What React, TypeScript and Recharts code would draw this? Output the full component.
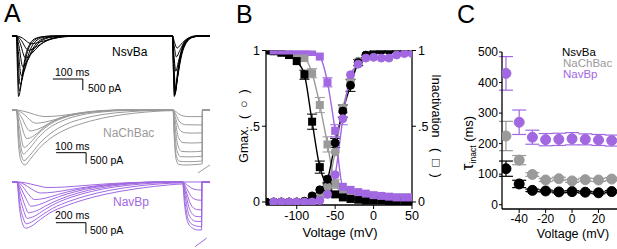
import React from 'react';
import { LineChart, Line, XAxis, YAxis, ComposedChart, ErrorBar, ReferenceLine } from 'recharts';

const BLACK = '#000000';
const GRAY = '#9a9a9a';
const PURPLE = '#a168e2';
const FONT = '"Liberation Sans", Arial, sans-serif';

// ---- A: current traces, [time (ms), current (pA)]
const nsvbaTraces: number[][][] = [
  [[0, 0], [15, 0], [18, -1500], [22, -2750], [27, -2500], [35, -1700], [45, -900], [60, -350], [80, -100], [110, -20], [150, 0], [535, 0], [538, -1600], [541, -2750], [546, -2300], [555, -1300], [568, -500], [585, -120], [610, 0], [660, 0]],
  [[0, 0], [15, 0], [19, -1300], [24, -2500], [30, -2200], [40, -1400], [52, -700], [70, -250], [95, -60], [130, 0], [535, 0], [538, -1500], [542, -2700], [548, -2200], [558, -1200], [572, -450], [590, -100], [615, 0], [660, 0]],
  [[0, 0], [15, 0], [20, -1000], [27, -2200], [35, -1900], [45, -1300], [60, -650], [80, -220], [110, -50], [150, 0], [535, 0], [539, -1500], [543, -2650], [550, -2000], [560, -1100], [575, -400], [595, -80], [620, 0], [660, 0]],
  [[0, 0], [15, 0], [21, -700], [31, -1800], [40, -1600], [55, -1000], [75, -450], [100, -150], [140, -20], [180, 0], [535, 0], [539, -1400], [544, -2600], [551, -1950], [562, -1000], [578, -350], [600, -60], [625, 0], [660, 0]],
  [[0, 0], [15, 0], [23, -450], [36, -1400], [50, -1150], [70, -650], [95, -250], [130, -60], [180, 0], [535, 0], [540, -1300], [545, -2450], [553, -1800], [565, -900], [582, -300], [605, -50], [630, 0], [660, 0]],
  [[0, 0], [15, 0], [25, -250], [45, -1000], [65, -800], [90, -450], [120, -180], [160, -40], [210, 0], [535, 0], [540, -900], [546, -1600], [555, -1150], [568, -550], [585, -180], [610, -30], [635, 0], [660, 0]],
  [[0, 0], [15, 0], [28, -150], [55, -650], [80, -500], [110, -250], [150, -80], [200, 0], [535, 0], [541, -500], [548, -950], [558, -700], [572, -330], [590, -100], [615, -15], [640, 0], [660, 0]],
  [[0, 0], [15, 0], [30, -60], [65, -350], [100, -250], [140, -100], [190, -20], [230, 0], [535, 0], [542, -300], [550, -550], [562, -400], [578, -180], [600, -50], [630, 0], [660, 0]],
];

const nachbacTraces: number[][][] = [
  [[0, 0], [15, 0], [22, -1600], [30, -2300], [43, -2500], [60, -2250], [90, -1750], [127, -1300], [180, -880], [237, -600], [320, -320], [405, -150], [480, -60], [537, -30], [541, -1300], [547, -2250], [556, -2480], [580, -2500], [610, -2480], [634, -2450], [635, 0], [660, 0]],
  [[0, 0], [15, 0], [22, -1300], [31, -2050], [40, -2300], [60, -2050], [90, -1550], [130, -1050], [180, -650], [240, -380], [320, -170], [400, -70], [470, -20], [537, -10], [541, -1100], [548, -2100], [558, -2330], [585, -2350], [634, -2320], [635, 0], [660, 0]],
  [[0, 0], [15, 0], [23, -1000], [30, -1700], [38, -2000], [55, -1800], [85, -1300], [120, -850], [170, -480], [230, -230], [300, -90], [380, -20], [537, 0], [542, -900], [550, -1850], [562, -2120], [590, -2130], [634, -2100], [635, 0], [660, 0]],
  [[0, 0], [15, 0], [24, -700], [40, -1700], [60, -1500], [90, -1050], [130, -620], [180, -320], [240, -130], [320, -30], [400, 0], [537, 0], [543, -700], [552, -1550], [565, -1880], [595, -1900], [634, -1870], [635, 0], [660, 0]],
  [[0, 0], [15, 0], [26, -450], [50, -1300], [75, -1150], [110, -750], [150, -420], [200, -200], [270, -60], [350, 0], [537, 0], [544, -500], [555, -1250], [570, -1480], [600, -1500], [634, -1480], [635, 0], [660, 0]],
  [[0, 0], [15, 0], [30, -300], [60, -950], [90, -850], [130, -560], [180, -290], [240, -120], [320, -20], [400, 0], [537, 0], [545, -350], [558, -880], [575, -1030], [605, -1050], [634, -1040], [635, 0], [660, 0]],
  [[0, 0], [15, 0], [35, -150], [80, -600], [120, -520], [170, -330], [230, -160], [300, -50], [380, 0], [537, 0], [546, -200], [560, -560], [580, -670], [634, -680], [635, 0], [660, 0]],
  [[0, 0], [15, 0], [40, -60], [110, -300], [160, -260], [220, -150], [300, -50], [380, 0], [537, 0], [547, -80], [565, -250], [590, -300], [634, -300], [635, 0], [660, 0]],
];
const nachbacTail = [[620, -2860], [660, -2500]];

const navbpTraces: number[][][] = [
  [[0, 0], [33, 0], [50, -1200], [70, -1900], [90, -2100], [130, -2000], [190, -1700], [253, -1400], [360, -1080], [473, -820], [620, -560], [807, -330], [950, -200], [1050, -130], [1138, -90], [1150, -1000], [1170, -1800], [1200, -2080], [1240, -2180], [1264, -2180], [1265, 0], [1320, 0]],
  [[0, 0], [33, 0], [52, -1000], [75, -1650], [95, -1900], [140, -1780], [200, -1500], [270, -1200], [380, -880], [500, -620], [650, -380], [820, -200], [980, -90], [1138, -40], [1152, -850], [1175, -1700], [1210, -1960], [1264, -2030], [1265, 0], [1320, 0]],
  [[0, 0], [33, 0], [55, -750], [80, -1350], [100, -1650], [150, -1550], [215, -1270], [290, -980], [400, -680], [530, -430], [680, -230], [850, -100], [1000, -30], [1138, -10], [1155, -650], [1180, -1500], [1220, -1780], [1264, -1800], [1265, 0], [1320, 0]],
  [[0, 0], [33, 0], [58, -500], [85, -1050], [110, -1400], [165, -1300], [235, -1050], [320, -780], [440, -500], [580, -280], [740, -120], [900, -30], [1050, 0], [1138, 0], [1157, -500], [1185, -1250], [1225, -1560], [1264, -1580], [1265, 0], [1320, 0]],
  [[0, 0], [33, 0], [62, -320], [95, -780], [125, -1100], [185, -1020], [260, -800], [360, -560], [490, -330], [640, -160], [800, -50], [950, 0], [1138, 0], [1160, -400], [1190, -1000], [1230, -1250], [1264, -1270], [1265, 0], [1320, 0]],
  [[0, 0], [33, 0], [70, -200], [110, -560], [150, -800], [220, -740], [310, -560], [420, -370], [560, -200], [720, -80], [880, -20], [1000, 0], [1138, 0], [1165, -300], [1200, -700], [1240, -820], [1264, -830], [1265, 0], [1320, 0]],
  [[0, 0], [33, 0], [80, -100], [130, -320], [190, -500], [280, -460], [390, -340], [520, -210], [680, -100], [850, -30], [1000, 0], [1138, 0], [1170, -150], [1210, -320], [1264, -370], [1265, 0], [1320, 0]],
  [[0, 0], [33, 0], [90, -40], [160, -150], [240, -250], [350, -230], [480, -160], [640, -80], [820, -20], [1000, 0], [1320, 0]],
];
const navbpTail = [[1220, -2940], [1298, -2550]];

// ---- B: normalized conductance / inactivation vs voltage
const voltagesB = [-140, -130, -120, -110, -100, -90, -80, -70, -60, -50, -40, -30, -20, -10, 0, 10, 20, 30, 40, 50];
const nsvbaAct = [0, 0, 0, 0, 0, 0.005, 0.04, 0.08, 0.15, 0.39, 0.6, 0.77, 0.92, 0.97, 0.99, 1, 1, 1, 0.995, 0.99];
const nachbacAct = [0, 0, 0, 0, 0, 0, 0.01, 0.03, 0.1, 0.33, 0.62, 0.8, 0.93, 0.97, 0.99, 1, 1, 0.995, 0.99, 0.99];
const navbpAct = [null, 0, 0, 0, 0, 0, 0, 0.01, 0.05, 0.18, 0.55, 0.84, 0.91, 0.95, 0.955, 0.95, 0.95, 0.97, 0.98, 0.98];
const nsvbaInact = [1, 0.995, 0.985, 0.97, 0.93, 0.84, 0.53, 0.23, 0.1, 0.05, 0.03, 0.02, 0.015, 0.01, 0.01, 0.01, 0.005, 0.005, 0.005, 0.005];
const nachbacInact = [1, 1, 0.99, 0.985, 0.97, 0.95, 0.85, 0.64, 0.38, 0.12, 0.06, 0.05, 0.04, 0.035, 0.03, 0.03, 0.03, 0.03, 0.03, 0.03];
const navbpInact = [null, 1, 1, 1, 1, 1, 0.99, 0.96, 0.79, 0.47, 0.1, 0.08, 0.065, 0.055, 0.045, 0.04, 0.035, 0.03, 0.03, 0.03];
const nsvbaActErr = [null, null, null, null, null, null, null, null, 0.02, 0.03, 0.04, 0.04, 0.02, null, null, null, null, null, null, null];
const nsvbaInactErr = [null, null, null, null, null, 0.03, 0.05, 0.04, 0.02, null, null, null, null, null, null, null, null, null, null, null];
const nachbacInactErr = [null, null, null, null, null, null, 0.03, 0.05, 0.05, 0.03, null, null, null, null, null, null, null, null, null, null];
const navbpInactErr = [null, null, null, null, null, null, null, null, 0.03, 0.04, null, null, null, null, null, null, null, null, null, null];
const navbpActErr = [null, null, null, null, null, null, null, null, null, null, 0.04, null, null, null, null, null, null, null, null, null];

// ---- C: inactivation time constant (ms)
const voltagesC = [-50, -40, -30, -20, -10, 0, 10, 20, 30];
const nsvbaTau = [118, 68, 47, 45, 42, 43, 41, 39, 43];
const nachbacTau = [225, 146, 99, 81, 85, 78, 82, 81, 84];
const navbpTau = [430, 270, 221, 213, 214, 216, 214, 212, 210];
const nsvbaTauErr = [25, 12, 4, 3, 3, 3, 3, 3, 3];
const nachbacTauErr = [48, 15, 6, 5, 5, 5, 5, 5, 5];
const navbpTauErr = [55, 40, 23, 20, 20, 20, 18, 18, 18];

const dataB = voltagesB.map((v, i) => ({
  v,
  nsAct: nsvbaAct[i], ncAct: nachbacAct[i], npAct: navbpAct[i],
  nsIn: nsvbaInact[i], ncIn: nachbacInact[i], npIn: navbpInact[i],
  nsActErr: nsvbaActErr[i], nsInErr: nsvbaInactErr[i], ncInErr: nachbacInactErr[i],
  npInErr: navbpInactErr[i], npActErr: navbpActErr[i],
}));

const dataC = voltagesC.map((v, i) => ({
  v,
  ns: nsvbaTau[i], nc: nachbacTau[i], np: navbpTau[i],
  nsErr: nsvbaTauErr[i], ncErr: nachbacTauErr[i], npErr: navbpTauErr[i],
}));

const toPts = (arr: number[][]) => arr.map(([t, i]) => ({ t, i }));

const circleDot = (color: string, r: number) => (p: any) =>
  Number.isFinite(p.cy) && p.value != null
    ? <circle key={`c${p.index}`} cx={p.cx} cy={p.cy} r={r} fill={color} stroke={color} />
    : <g key={`c${p.index}`} />;

const squareDot = (color: string) => (p: any) =>
  Number.isFinite(p.cy) && p.value != null
    ? <rect key={`s${p.index}`} x={p.cx - 4} y={p.cy - 4} width={8} height={8} fill={color} />
    : <g key={`s${p.index}`} />;

const tickStyle = { fill: '#000', fontSize: 12.5, fontFamily: FONT };
const tickStyleC = { fill: '#000', fontSize: 12, fontFamily: FONT };
const axisStyle = { stroke: '#000', strokeWidth: 1.3 };

function TraceChart({ traces, tail, color, xMax, bar, top }: any) {
  return (
    <div style={{ position: 'absolute', left: 12, top }}>
      <LineChart width={198} height={72} margin={{ top: 0, right: 0, bottom: 0, left: 0 }}>
        <XAxis hide type="number" dataKey="t" domain={[0, xMax]} allowDataOverflow />
        <YAxis hide type="number" domain={[-3000, 272.7]} allowDataOverflow />
        {traces.map((tr: number[][], k: number) => (
          <Line key={k} data={toPts(tr)} dataKey="i" type="monotone" stroke={color} strokeWidth={1}
            dot={false} activeDot={false} isAnimationActive={false} />
        ))}
        {tail && (
          <Line data={toPts(tail)} dataKey="i" type="linear" stroke={color} strokeWidth={1}
            dot={false} activeDot={false} isAnimationActive={false} />
        )}
        <ReferenceLine segment={[{ x: bar.t - bar.ms, y: bar.i }, { x: bar.t, y: bar.i }]} stroke="#000" strokeWidth={1} ifOverflow="visible" />
        <ReferenceLine segment={[{ x: bar.t, y: bar.i }, { x: bar.t, y: bar.i - bar.pA }]} stroke="#000" strokeWidth={1} ifOverflow="visible" />
      </LineChart>
    </div>
  );
}

export default function App() {
  return (
    <div style={{ position: 'absolute', left: 0, top: 0, width: 617, height: 249, background: '#fff', overflow: 'hidden', fontFamily: FONT }}>
      <TraceChart traces={nsvbaTraces} color={BLACK} xMax={660} top={30} bar={{ ms: 100, pA: 500, t: 236, i: -1955 }} />
      <TraceChart traces={nachbacTraces} tail={nachbacTail} color={GRAY} xMax={660} top={104} bar={{ ms: 100, pA: 500, t: 247, i: -1940 }} />
      <TraceChart traces={navbpTraces} tail={navbpTail} color={PURPLE} xMax={1320} top={176} bar={{ ms: 200, pA: 500, t: 493, i: -1850 }} />

      {/* B */}
      <div style={{ position: 'absolute', left: 226, top: 40 }}>
        <ComposedChart width={206} height={195} data={dataB} margin={{ top: 10.5, right: 0, bottom: 0, left: 0 }}>
          <XAxis type="number" dataKey="v" domain={[-140, 50]} ticks={[-100, -50, 0, 50]} interval={0}
            height={30} tickSize={4} tick={tickStyle} axisLine={axisStyle} tickLine={{ stroke: '#000' }} allowDataOverflow />
          <YAxis yAxisId="l" type="number" domain={[-0.02, 1]} ticks={[0, 0.5, 1]} width={40} tickSize={4}
            tickFormatter={(v: number) => (v === 0.5 ? '.5' : String(v))} tick={tickStyle} axisLine={axisStyle} tickLine={{ stroke: '#000' }} allowDataOverflow />
          <YAxis yAxisId="r" orientation="right" type="number" domain={[-0.02, 1]} ticks={[0, 0.5, 1]} width={20} tickSize={4}
            tickFormatter={(v: number) => (v === 0.5 ? '.5' : String(v))} tick={tickStyle} axisLine={axisStyle} tickLine={{ stroke: '#000' }} allowDataOverflow />
          <Line yAxisId="l" dataKey="ncIn" type="monotone" stroke={GRAY} strokeWidth={1.4} dot={squareDot(GRAY)} activeDot={false} isAnimationActive={false}>
            <ErrorBar dataKey="ncInErr" width={5} stroke={GRAY} strokeWidth={1} direction="y" />
          </Line>
          <Line yAxisId="l" dataKey="nsIn" type="monotone" stroke={BLACK} strokeWidth={1.4} dot={squareDot(BLACK)} activeDot={false} isAnimationActive={false}>
            <ErrorBar dataKey="nsInErr" width={5} stroke={BLACK} strokeWidth={1} direction="y" />
          </Line>
          <Line yAxisId="l" dataKey="ncAct" type="monotone" stroke={GRAY} strokeWidth={1.4} dot={circleDot(GRAY, 4)} activeDot={false} isAnimationActive={false} />
          <Line yAxisId="l" dataKey="nsAct" type="monotone" stroke={BLACK} strokeWidth={1.4} dot={circleDot(BLACK, 4)} activeDot={false} isAnimationActive={false}>
            <ErrorBar dataKey="nsActErr" width={5} stroke={BLACK} strokeWidth={1} direction="y" />
          </Line>
          <Line yAxisId="l" dataKey="npIn" type="monotone" stroke={PURPLE} strokeWidth={1.4} dot={squareDot(PURPLE)} activeDot={false} isAnimationActive={false}>
            <ErrorBar dataKey="npInErr" width={5} stroke={PURPLE} strokeWidth={1} direction="y" />
          </Line>
          <Line yAxisId="l" dataKey="npAct" type="monotone" stroke={PURPLE} strokeWidth={1.4} dot={circleDot(PURPLE, 4)} activeDot={false} isAnimationActive={false}>
            <ErrorBar dataKey="npActErr" width={5} stroke={PURPLE} strokeWidth={1} direction="y" />
          </Line>
        </ComposedChart>
      </div>

      {/* C */}
      <div style={{ position: 'absolute', left: 440, top: 40 }}>
        <ComposedChart width={177} height={199} data={dataC} margin={{ top: 12, right: 0, bottom: 0, left: 0 }}>
          <XAxis type="number" dataKey="v" domain={[-53, 34]} ticks={[-40, -20, 0, 20]} interval={0}
            height={30} tickSize={4} tickMargin={1} tick={tickStyleC} axisLine={axisStyle} tickLine={{ stroke: '#000' }} allowDataOverflow />
          <YAxis type="number" domain={[-14, 500]} ticks={[0, 100, 200, 300, 400, 500]} interval={0} width={62} tickSize={3} tickMargin={1}
            tick={tickStyleC} axisLine={axisStyle} tickLine={{ stroke: '#000' }} allowDataOverflow />
          <Line dataKey="ns" stroke="none" dot={circleDot(BLACK, 5)} activeDot={false} isAnimationActive={false}>
            <ErrorBar dataKey="nsErr" width={7} stroke={BLACK} strokeWidth={1.2} direction="y" />
          </Line>
          <Line dataKey="nc" stroke="none" dot={circleDot(GRAY, 5)} activeDot={false} isAnimationActive={false}>
            <ErrorBar dataKey="ncErr" width={7} stroke={GRAY} strokeWidth={1.2} direction="y" />
          </Line>
          <Line dataKey="np" stroke="none" dot={circleDot(PURPLE, 5)} activeDot={false} isAnimationActive={false}>
            <ErrorBar dataKey="npErr" width={7} stroke={PURPLE} strokeWidth={1.2} direction="y" />
          </Line>
        </ComposedChart>
      </div>

      <svg width={617} height={249} style={{ position: 'absolute', left: 0, top: 0, pointerEvents: 'none' }} fontFamily={FONT}>
        <text x={4} y={22} fontSize={25}>A</text>
        <text x={236} y={23} fontSize={25}>B</text>
        <text x={457} y={23} fontSize={25}>C</text>

        <text x={112} y={56} fontSize={12}>NsvBa</text>
        <text x={55} y={75.5} fontSize={10.5}>100 ms</text>
        <text x={88} y={92} fontSize={10.5}>500 pA</text>
        <text x={103} y={137} fontSize={12} fill={GRAY}>NaChBac</text>
        <text x={55} y={150} fontSize={10.5}>100 ms</text>
        <text x={90} y={164} fontSize={10.5}>500 pA</text>
        <text x={113} y={206} fontSize={12} fill={PURPLE}>NavBp</text>
        <text x={55} y={219} fontSize={10.5}>200 ms</text>
        <text x={90} y={234} fontSize={10.5}>500 pA</text>

        <text transform="translate(248,126) rotate(-90)" textAnchor="middle" fontSize={12.5}>{'Gmax.\u00a0\u00a0(\u00a0\u00a0\u25cb\u00a0\u00a0)'}</text>
        <text x={340} y={237} textAnchor="middle" fontSize={13}>Voltage (mV)</text>
        <text transform="translate(432,126) rotate(90)" textAnchor="middle" fontSize={12.5}>{'Inactivation\u00a0\u00a0\u00a0(\u00a0\u00a0\u25a1\u00a0\u00a0)'}</text>

        <text transform="translate(473,143) rotate(-90)" textAnchor="middle" fontSize={13}>
          <tspan fontSize={17}>{'\u03c4'}</tspan>
          <tspan fontSize={8.5} dy={3}>inact</tspan>
          <tspan dy={-3}>{'\u00a0(ms)'}</tspan>
        </text>
        <text x={573} y={238} textAnchor="middle" fontSize={12.5}>Voltage (mV)</text>
        <text x={562} y={56} fontSize={11.5}>NsvBa</text>
        <text x={563} y={67} fontSize={11.5} fill={GRAY}>NaChBac</text>
        <text x={563} y={78} fontSize={11.5} fill={PURPLE}>NavBp</text>
      </svg>
    </div>
  );
}
